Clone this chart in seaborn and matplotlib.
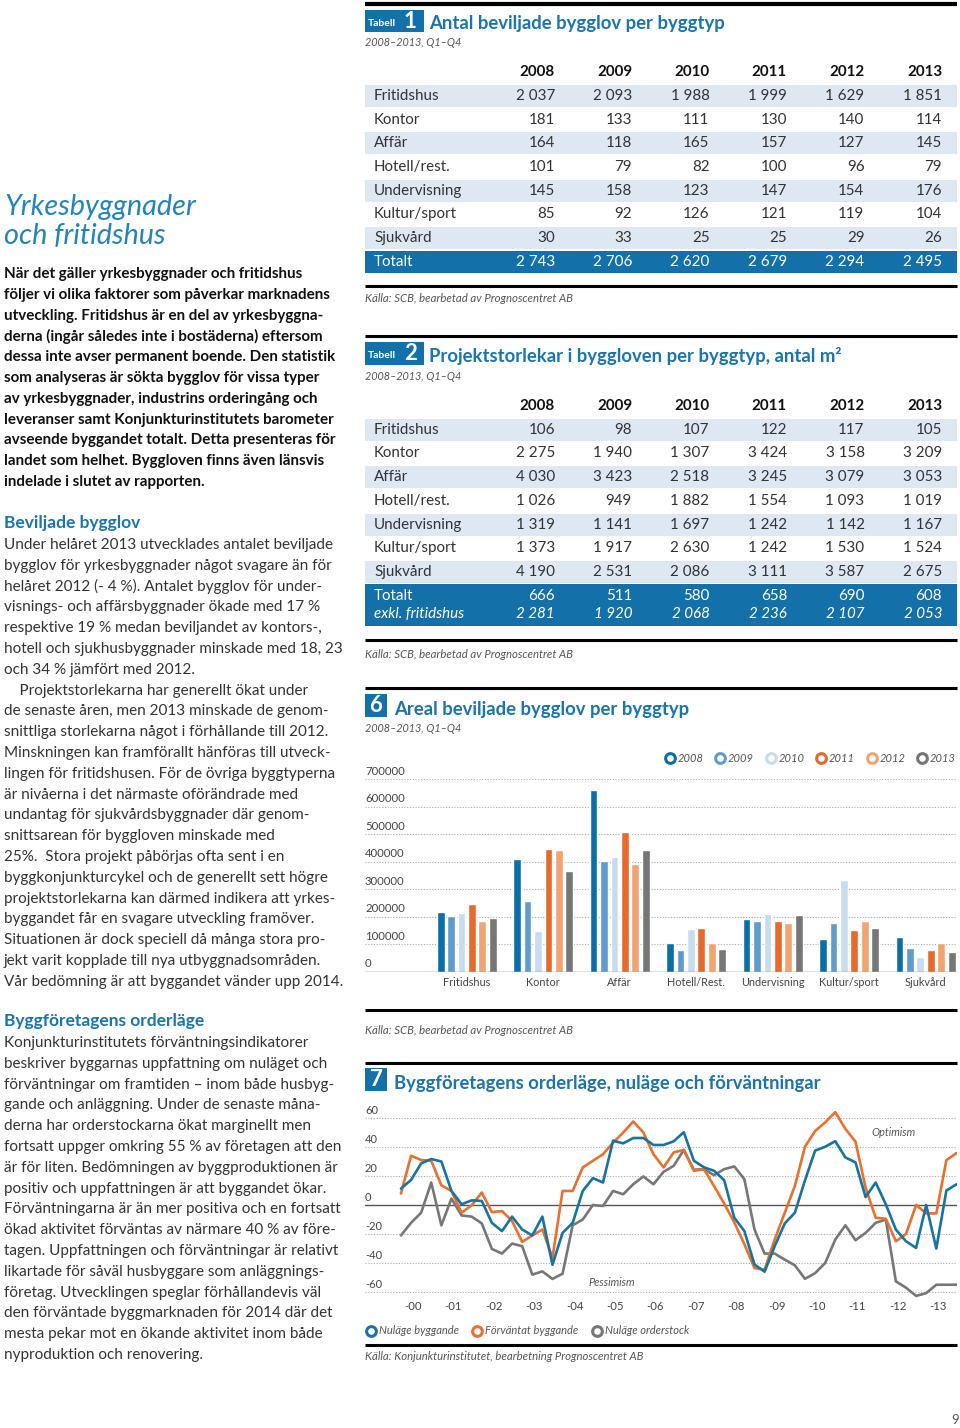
import matplotlib
matplotlib.use('Agg')
import matplotlib.pyplot as plt
import seaborn as sns
import pandas as pd
import numpy as np
from matplotlib.patches import Rectangle

# ---------------- data ----------------
years = ['2008', '2009', '2010', '2011', '2012', '2013']
typer = ['Fritidshus', 'Kontor', 'Affär', 'Hotell/rest.', 'Undervisning', 'Kultur/sport', 'Sjukvård']
typer_chart = ['Fritidshus', 'Kontor', 'Affär', 'Hotell/Rest.', 'Undervisning', 'Kultur/sport', 'Sjukvård']

# Tabell 1 - antal bygglov
antal_2008 = [2037, 181, 164, 101, 145, 85, 30]
antal_2009 = [2093, 133, 118, 79, 158, 92, 33]
antal_2010 = [1988, 111, 165, 82, 123, 126, 25]
antal_2011 = [1999, 130, 157, 100, 147, 121, 25]
antal_2012 = [1629, 140, 127, 96, 154, 119, 29]
antal_2013 = [1851, 114, 145, 79, 176, 104, 26]
antal_totalt = [2743, 2706, 2620, 2679, 2294, 2495]

# Tabell 2 - projektstorlek m2
storlek_2008 = [106, 2275, 4030, 1026, 1319, 1373, 4190]
storlek_2009 = [98, 1940, 3423, 949, 1141, 1917, 2531]
storlek_2010 = [107, 1307, 2518, 1882, 1697, 2630, 2086]
storlek_2011 = [122, 3424, 3245, 1554, 1242, 1242, 3111]
storlek_2012 = [117, 3158, 3079, 1093, 1142, 1530, 3587]
storlek_2013 = [105, 3209, 3053, 1019, 1167, 1524, 2675]
storlek_totalt = [666, 511, 580, 658, 690, 608]
storlek_exkl = [2281, 1920, 2068, 2236, 2107, 2053]

# Diagram 6 - areal beviljade bygglov
areal_2008 = [215000, 410000, 660000, 104000, 191000, 117000, 127000]
areal_2009 = [203000, 258000, 403000, 77000, 182000, 178000, 86000]
areal_2010 = [212000, 146000, 415000, 155000, 208000, 332000, 54000]
areal_2011 = [245000, 444000, 507000, 157000, 184000, 151000, 79000]
areal_2012 = [183000, 443000, 392000, 105000, 177000, 183000, 103000]
areal_2013 = [196000, 366000, 441000, 82000, 205000, 160000, 70000]
areal_yticks = [0, 100000, 200000, 300000, 400000, 500000, 600000, 700000]

# Diagram 7 - kvartal 2000Q1 - 2013Q4
nulage_byggande = [11.3, 17.3, 28.7, 31.7, 30, 9.7, 0.5, 3.2, 2.8, -12.3,
                   -18, -8, -16.9, -21, -8, -41.2, -19.2, -12.3, 9.7, 18.5,
                   15.5, 44.4, 42.5, 46.2, 46.2, 41.4, 41.4, 43.9, 50.2, 30.5,
                   26, 23.6, 17.1, -8.8, -18, -41, -46, -28.4, -12.7, -5.3,
                   17, 37.5, 40.2, 44, 32.8, 29.4, 5.5, 15.5, 0.5, -17,
                   -25, -29.6, 0, -30, 10, 14.3]
forvantat_byggande = [7.9, 34, 31, 30.5, 13.6, 9.7, -5.3, -0.2, 8.6, -4.9,
                      -4.2, -11, -25.4, -21, -16.9, -36.5, 9.7, 9.7, 25.9, 30.5,
                      35, 43, 50, 57.6, 50, 35, 25.9, 36.3, 38, 23.6,
                      24.7, 13, 1, -12, -27, -43.5, -44.6, -23.8, -5.3, 13.2,
                      40.2, 51, 57, 64, 52.5, 43.7, 12, -8.8, -9.5, -25,
                      -20, 0, -5.8, -5.8, 31, 35.8]
nulage_orderstock = [-21, -12.3, -5.3, 15.5, -14, 4.4, -7.2, -8, -12.7, -30.3,
                     -33.5, -26.6, -28.4, -48, -45.8, -51, -47.4, -14, -10, 0,
                     -0.7, 9.7, 7.4, 14.3, 19.7, 14.3, 22.9, 27, 38, 24.3,
                     24.7, 20.6, 24.7, 26.6, 17.8, -16.9, -33.5, -33.5, -37.7, -41.6,
                     -50.9, -47, -40, -23.8, -14, -24.3, -19.2, -12.3, -10, -52.7,
                     -57, -62.7, -60.8, -55, -55, -55]
ar_labels = ['-00', '-01', '-02', '-03', '-04', '-05', '-06', '-07', '-08', '-09', '-10', '-11', '-12', '-13']
line_yticks = [60, 40, 20, 0, -20, -40, -60]

# ---------------- style ----------------
sns.set_theme(style='white')
plt.rcParams['font.family'] = ['Lato', 'DejaVu Sans']

W, H = 960, 1428
BLUE = '#1470a8'
TITLE_BLUE = '#1a74ad'
LIGHT_ROW = '#dde8f3'
TXT = '#222222'
GREY = '#555555'
bar_colors = ['#0a6fa8', '#5e9ccb', '#c7dced', '#e7692c', '#f2a470', '#767676']
line_colors = {'Nuläge byggande': '#17739f', 'Förväntat byggande': '#e9702d', 'Nuläge orderstock': '#777777'}

fig = plt.figure(figsize=(9.6, 14.28), dpi=100)
fig.patch.set_facecolor('white')
page = fig.add_axes([0, 0, 1, 1])
page.set_xlim(0, W)
page.set_ylim(H, 0)
page.axis('off')


def txt(x, y, s, **kw):
    kw.setdefault('va', 'center')
    kw.setdefault('color', TXT)
    page.text(x, y, s, **kw)


def rule(y, lw=2.2):
    page.plot([365, 957], [y, y], color='black', lw=lw, solid_capstyle='butt')


def fmt(v):
    return f'{v:,}'.replace(',', ' ')


def add_ax(x0, y0, x1, y1):
    return fig.add_axes([x0 / W, 1 - y1 / H, (x1 - x0) / W, (y1 - y0) / H])


# ---------------- left text column ----------------
txt(4, 207, 'Yrkesbyggnader', fontsize=20.8, style='italic', color='#2384ba')
txt(4, 236, 'och fritidshus', fontsize=20.8, style='italic', color='#2384ba')

intro = ['När det gäller yrkesbyggnader och fritidshus',
         'följer vi olika faktorer som påverkar marknadens',
         'utveckling. Fritidshus är en del av yrkesbyggna-',
         'derna (ingår således inte i bostäderna) eftersom',
         'dessa inte avser permanent boende. Den statistik',
         'som analyseras är sökta bygglov för vissa typer',
         'av yrkesbyggnader, industrins orderingång och',
         'leveranser samt Konjunkturinstitutets barometer',
         'avseende byggandet totalt. Detta presenteras för',
         'landet som helhet. Byggloven finns även länsvis',
         'indelade i slutet av rapporten.']
for i, line in enumerate(intro):
    txt(4, 274 + i * 20.8, line, fontsize=10.9, fontweight='bold', color='#111111')

txt(4, 523, 'Beviljade bygglov', fontsize=12.5, fontweight='bold', color=TITLE_BLUE)
body1 = ['Under helåret 2013 utvecklades antalet beviljade',
         'bygglov för yrkesbyggnader något svagare än för',
         'helåret 2012 (- 4 %). Antalet bygglov för under-',
         'visnings- och affärsbyggnader ökade med 17 %',
         'respektive 19 % medan beviljandet av kontors-,',
         'hotell och sjukhusbyggnader minskade med 18, 23',
         'och 34 % jämfört med 2012.',
         '    Projektstorlekarna har generellt ökat under',
         'de senaste åren, men 2013 minskade de genom-',
         'snittliga storlekarna något i förhållande till 2012.',
         'Minskningen kan framförallt hänföras till utveck-',
         'lingen för fritidshusen. För de övriga byggtyperna',
         'är nivåerna i det närmaste oförändrade med',
         'undantag för sjukvårdsbyggnader där genom-',
         'snittsarean för byggloven minskade med',
         '25%.  Stora projekt påbörjas ofta sent i en',
         'byggkonjunkturcykel och de generellt sett högre',
         'projektstorlekarna kan därmed indikera att yrkes-',
         'byggandet får en svagare utveckling framöver.',
         'Situationen är dock speciell då många stora pro-',
         'jekt varit kopplade till nya utbyggnadsområden.',
         'Vår bedömning är att byggandet vänder upp 2014.']
for i, line in enumerate(body1):
    txt(4, 545 + i * 20.8, line, fontsize=10.95, color='#333333')

txt(4, 1021, 'Byggföretagens orderläge', fontsize=12.5, fontweight='bold', color=TITLE_BLUE)
body2 = ['Konjunkturinstitutets förväntningsindikatorer',
         'beskriver byggarnas uppfattning om nuläget och',
         'förväntningar om framtiden – inom både husbyg-',
         'gande och anläggning. Under de senaste måna-',
         'derna har orderstockarna ökat marginellt men',
         'fortsatt uppger omkring 55 % av företagen att den',
         'är för liten. Bedömningen av byggproduktionen är',
         'positiv och uppfattningen är att byggandet ökar.',
         'Förväntningarna är än mer positiva och en fortsatt',
         'ökad aktivitet förväntas av närmare 40 % av före-',
         'tagen. Uppfattningen och förväntningar är relativt',
         'likartade för såväl husbyggare som anläggnings-',
         'företag. Utvecklingen speglar förhållandevis väl',
         'den förväntade byggmarknaden för 2014 där det',
         'mesta pekar mot en ökande aktivitet inom både',
         'nyproduktion och renovering.']
for i, line in enumerate(body2):
    txt(4, 1043 + i * 20.8, line, fontsize=10.95, color='#333333')


# ---------------- headers ----------------
def badge(y0, y1, num, tabell=True):
    if tabell:
        page.add_patch(Rectangle((365, y0), 59, y1 - y0, color=BLUE, lw=0))
        txt(368, (y0 + y1) / 2 + 2, 'Tabell', fontsize=7.5, fontweight='bold', color='white')
        txt(404, (y0 + y1) / 2, num, fontsize=16, fontweight='bold', color='white')
    else:
        page.add_patch(Rectangle((365, y0), 22, y1 - y0, color=BLUE, lw=0))
        txt(376, (y0 + y1) / 2, num, fontsize=16, fontweight='bold', color='white', ha='center')


col_right = [555, 632, 709.5, 787, 864.5, 942]
TFS = 10.9


def table(y_head, rows_y, values, tot_y, tot_vals, exkl_vals=None):
    for x, yr in zip(col_right, years):
        txt(x, y_head, yr, fontsize=TFS, fontweight='bold', ha='right', color='#111111')
    for r, name in enumerate(typer):
        y = rows_y[r]
        if r % 2 == 0:
            page.add_patch(Rectangle((365, y - 11), 592, 22, color=LIGHT_ROW, lw=0))
        txt(374, y, name, fontsize=TFS, color='#333333')
        for c in range(6):
            txt(col_right[c], y, fmt(values[c][r]), fontsize=TFS, ha='right', color='#333333')
    if exkl_vals is None:
        page.add_patch(Rectangle((365, tot_y - 11), 592, 22, color=BLUE, lw=0))
        txt(374, tot_y, 'Totalt', fontsize=TFS, color='white')
        for c in range(6):
            txt(col_right[c], tot_y, fmt(tot_vals[c]), fontsize=TFS, ha='right', color='white')
    else:
        page.add_patch(Rectangle((365, tot_y - 12), 592, 42, color=BLUE, lw=0))
        txt(374, tot_y, 'Totalt', fontsize=TFS, color='white')
        txt(374, tot_y + 18, 'exkl. fritidshus', fontsize=TFS, style='italic', color='white')
        for c in range(6):
            txt(col_right[c], tot_y, fmt(tot_vals[c]), fontsize=TFS, ha='right', color='white')
            txt(col_right[c], tot_y + 18, fmt(exkl_vals[c]), fontsize=TFS, style='italic',
                ha='right', color='white')


# Tabell 1
rule(4, lw=3)
badge(10, 32, '1')
txt(429, 23, 'Antal beviljade bygglov per byggtyp', fontsize=13.3, fontweight='bold', color=TITLE_BLUE)
txt(365, 43, '2008–2013, Q1–Q4', fontsize=7.8, style='italic', color=GREY)
table(72, [96, 120, 143, 167, 191, 214, 238],
      [antal_2008, antal_2009, antal_2010, antal_2011, antal_2012, antal_2013],
      262, antal_totalt)
rule(286)
txt(365, 299, 'Källa: SCB, bearbetad av Prognoscentret AB', fontsize=8.2, style='italic', color=GREY)

# Tabell 2
rule(336)
badge(342, 365, '2')
txt(429, 356, 'Projektstorlekar i byggloven per byggtyp, antal m²', fontsize=13.3, fontweight='bold',
    color=TITLE_BLUE)
txt(365, 376, '2008–2013, Q1–Q4', fontsize=7.8, style='italic', color=GREY)
table(406, [430, 453, 477, 501, 525, 548, 572],
      [storlek_2008, storlek_2009, storlek_2010, storlek_2011, storlek_2012, storlek_2013],
      596, storlek_totalt, storlek_exkl)
rule(640)
txt(365, 654, 'Källa: SCB, bearbetad av Prognoscentret AB', fontsize=8.2, style='italic', color=GREY)

# ---------------- Diagram 6 ----------------
rule(688)
badge(694, 717, '6', tabell=False)
txt(394, 710, 'Areal beviljade bygglov per byggtyp', fontsize=13.3, fontweight='bold', color=TITLE_BLUE)
txt(365, 729, '2008–2013, Q1–Q4', fontsize=7.8, style='italic', color=GREY)

legend_x = [670, 720, 771, 821, 872, 922]
for x, yr, col in zip(legend_x, years, bar_colors):
    page.plot([x], [758], marker='o', ms=7, mfc='white', mec=col, mew=2.2)
    txt(x + 8, 758, yr, fontsize=8, style='italic', color=GREY)

df6 = pd.DataFrame({
    'typ': typer_chart * 6,
    'ar': np.repeat(years, len(typer_chart)),
    'areal': areal_2008 + areal_2009 + areal_2010 + areal_2011 + areal_2012 + areal_2013,
})
ax6 = add_ax(365, 779, 957, 971.5)
sns.barplot(data=df6, x='typ', y='areal', hue='ar', order=typer_chart, hue_order=years,
            palette=bar_colors, width=0.82, gap=0.25, saturation=1, errorbar=None,
            legend=False, ax=ax6, zorder=3)
ax6.set_xlim(-1.33, 6.41)
ax6.set_ylim(0, 700000)
ax6.set_facecolor('none')
for s in ax6.spines.values():
    s.set_visible(False)
ax6.set_yticks(areal_yticks)
ax6.set_yticklabels([])
ax6.tick_params(axis='both', length=0)
ax6.set_xlabel('')
ax6.set_ylabel('')
for t in areal_yticks:
    if t == 0:
        ax6.axhline(0, color='#666666', lw=1.0, zorder=4)
    else:
        ax6.axhline(t, color='#aaaaaa', lw=0.8, ls=(0, (1, 1.5)), zorder=1)
    ax6.text(0.0, t + 9000, str(t), transform=ax6.get_yaxis_transform(), fontsize=8.2,
             color='#444444', va='bottom', ha='left')
ax6.set_xticks(range(len(typer_chart)))
ax6.set_xticklabels(typer_chart, fontsize=7.8, color='#444444')
ax6.tick_params(axis='x', pad=4)
rule(1010)
txt(365, 1030, 'Källa: SCB, bearbetad av Prognoscentret AB', fontsize=8.2, style='italic', color=GREY)

# ---------------- Diagram 7 ----------------
rule(1063)
badge(1068, 1091, '7', tabell=False)
txt(394, 1084, 'Byggföretagens orderläge, nuläge och förväntningar', fontsize=13.2, fontweight='bold',
    color=TITLE_BLUE)

n = len(nulage_byggande)
series_order = ['Nuläge orderstock', 'Förväntat byggande', 'Nuläge byggande']
df7 = pd.DataFrame({
    'kvartal': np.tile(np.arange(n), 3),
    'serie': np.repeat(series_order, n),
    'varde': nulage_orderstock + forvantat_byggande + nulage_byggande,
})
ax7 = add_ax(365, 1103.5, 957, 1299.25)
ax7.set_facecolor('none')
for t in line_yticks:
    if t == 0:
        ax7.axhline(0, color='#555555', lw=1.0, zorder=1)
    else:
        ax7.axhline(t, color='#aaaaaa', lw=0.8, ls=(0, (1, 1.5)), zorder=1)
    ax7.text(0.0, t + 1.5, str(t), transform=ax7.get_yaxis_transform(), fontsize=8,
             color='#444444', va='bottom', ha='left')
sns.lineplot(data=df7, x='kvartal', y='varde', hue='serie', hue_order=series_order,
             palette=line_colors, linewidth=1.9, legend=False, ax=ax7, zorder=3)
ax7.set_xlim(-3.56, 55.05)
ax7.set_ylim(-65, 70)
for s in ax7.spines.values():
    s.set_visible(False)
ax7.set_yticks([])
ax7.set_xticks([4 * k + 1.2 for k in range(len(ar_labels))])
ax7.set_xticklabels(ar_labels, fontsize=8.2, color='#444444')
ax7.tick_params(axis='x', length=0, pad=1)
ax7.set_xlabel('')
ax7.set_ylabel('')
ax7.text(0.855, 0.835, 'Optimism', transform=ax7.transAxes, fontsize=7.8, style='italic', color=GREY)
ax7.text(0.377, 0.07, 'Pessimism', transform=ax7.transAxes, fontsize=7.8, style='italic', color=GREY)

legend7 = [(371, 'Nuläge byggande'), (477, 'Förväntat byggande'), (597, 'Nuläge orderstock')]
for x, name in legend7:
    page.plot([x], [1331], marker='o', ms=7, mfc='white', mec=line_colors[name], mew=2.2)
    txt(x + 8, 1331, name, fontsize=8, style='italic', color=GREY)
rule(1345)
txt(365, 1356, 'Källa: Konjunkturinstitutet, bearbetning Prognoscentret AB', fontsize=8.2, style='italic',
    color=GREY)

txt(951, 1420, '9', fontsize=9.5, color=GREY)

fig.savefig('out.png', dpi=100, facecolor='white')
